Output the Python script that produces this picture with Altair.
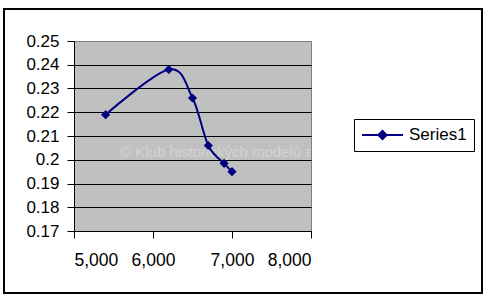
import altair as alt
import pandas as pd

# ---- data ----
rpm = [5400, 6200, 6500, 6700, 6900, 7000]
values = [0.219, 0.238, 0.226, 0.206, 0.1985, 0.195]
series = ["Series1"] * len(rpm)
x_ticks = [5000, 6000, 7000, 8000]
y_ticks = [0.17, 0.18, 0.19, 0.20, 0.21, 0.22, 0.23, 0.24, 0.25]
watermark = ["© Klub historických modelů a"]

df = pd.DataFrame({"x": rpm, "y": values, "s": series})
wm = pd.DataFrame({"t": watermark})

FONT = "Liberation Sans"
NAVY = "#000080"

x_enc = alt.X(
    "x:Q",
    scale=alt.Scale(domain=[5000, 8000], nice=False, zero=False),
    axis=alt.Axis(values=x_ticks, format=",.0f", title=None, grid=False,
                  labelPadding=13, tickSize=7, labelFontSize=17.5),
)
y_enc = alt.Y(
    "y:Q",
    scale=alt.Scale(domain=[0.17, 0.25], nice=False, zero=False),
    axis=alt.Axis(values=y_ticks, format=".2~f", title=None, grid=True,
                  gridColor={"condition": {"test": "datum.value >= 0.2495", "value": "#808080"},
                             "value": "black"},
                  labelPadding=8, tickSize=7),
)

legend_path = "M-1,0L1,0M0,-0.2L0.2,0L0,0.2L-0.2,0Z"

border = alt.Chart(wm).mark_rect(
    fill="white", fillOpacity=0, stroke="black", strokeWidth=2, clip=False
).encode(
    x=alt.value(-70), x2=alt.value(408), y=alt.value(-32), y2=alt.value(252)
)

mark_wm = alt.Chart(wm).mark_text(
    align="left", baseline="middle", font=FONT, fontSize=15,
    color="white", opacity=0.3, clip=True
).encode(x=alt.value(46), y=alt.value(111), text="t:N")

line = alt.Chart(df).mark_line(
    interpolate="cardinal", tension=0, strokeWidth=2
).encode(
    x=x_enc, y=y_enc,
    color=alt.Color("s:N", scale=alt.Scale(range=[NAVY]),
                    legend=alt.Legend(
                        title=None, orient="none", legendX=280, legendY=78,
                        symbolType=legend_path, symbolSize=1681,
                        symbolFillColor=NAVY, symbolStrokeColor=NAVY,
                        symbolStrokeWidth=2, clipHeight=18,
                        labelFont=FONT, labelFontSize=17, labelColor="black",
                        labelOffset=5, padding=7,
                        strokeColor="black", fillColor="white",
                    )),
)

points = alt.Chart(df).mark_point(
    shape="diamond", filled=True, size=85, opacity=1, color=NAVY
).encode(x=x_enc, y=y_enc)

chart = alt.layer(border, mark_wm, line, points).properties(
    width=237, height=190,
    autosize=alt.AutoSizeParams(type="none"),
    padding={"left": 74, "top": 41, "right": 179, "bottom": 71},
    background="white",
).configure_view(
    fill="#C0C0C0", stroke="#808080", strokeWidth=1
).configure_axis(
    labelFont=FONT, labelFontSize=17, labelColor="black",
    domainColor="black", tickColor="black", domainWidth=1, tickWidth=1,
    gridWidth=1,
)

chart.save("out.html", embed_options={"renderer": "svg", "actions": False})
